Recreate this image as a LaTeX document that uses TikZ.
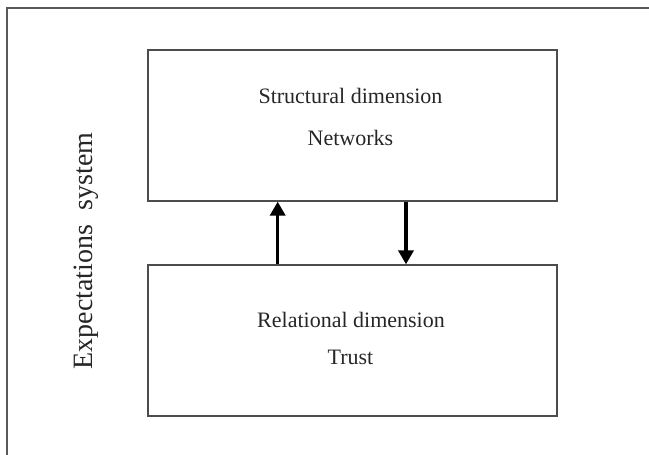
\documentclass[tikz,border=0pt]{standalone}
\usepackage{fontspec}
\setmainfont{Liberation Serif}
\usetikzlibrary{arrows.meta}
\begin{document}
\begin{tikzpicture}[x=1pt,y=1pt,
  frameline/.style={draw=black!65,line width=1.8pt},
  dimbox/.style={draw=black!70,line width=1.3pt,minimum width=409pt,minimum height=151pt,inner sep=0pt},
  boxtext/.style={anchor=base,inner sep=0pt,text=black!85,font=\fontsize{22}{26}\selectfont},
  flow/.style={line width=3.5pt,-{Triangle[length=14pt,width=15pt]}}]
\useasboundingbox (0,0) rectangle (649,-455);
% open outer frame
\coordinate (fbl) at (7,-456);
\coordinate (ftl) at (7,-8);
\coordinate (ftr) at (650,-8);
\draw[frameline] (fbl) -- (ftl) -- (ftr);
% vertical caption
\node[anchor=base,rotate=90,inner sep=0pt,text=black!85,font=\fontsize{28}{32}\selectfont] (cap) at (92,-251) {Expectations\ \ system};
% the two dimension boxes
\node[dimbox] (struct) at (352.5,-125.5) {};
\node[dimbox] (relat) at (352.5,-340.5) {};
\node[boxtext] (s1) at (350.5,-103) {Structural dimension};
\node[boxtext] (s2) at (350.5,-145) {Networks};
\node[boxtext] (r1) at (351,-327) {Relational dimension};
\node[boxtext] (r2) at (350.5,-364) {Trust};
% links between the boxes
\draw[flow] (relat.north -| 277.7,0) -- (struct.south -| 277.7,0);
\draw[flow] (struct.south -| 406,0) -- (relat.north -| 406,0);
\end{tikzpicture}
\end{document}
